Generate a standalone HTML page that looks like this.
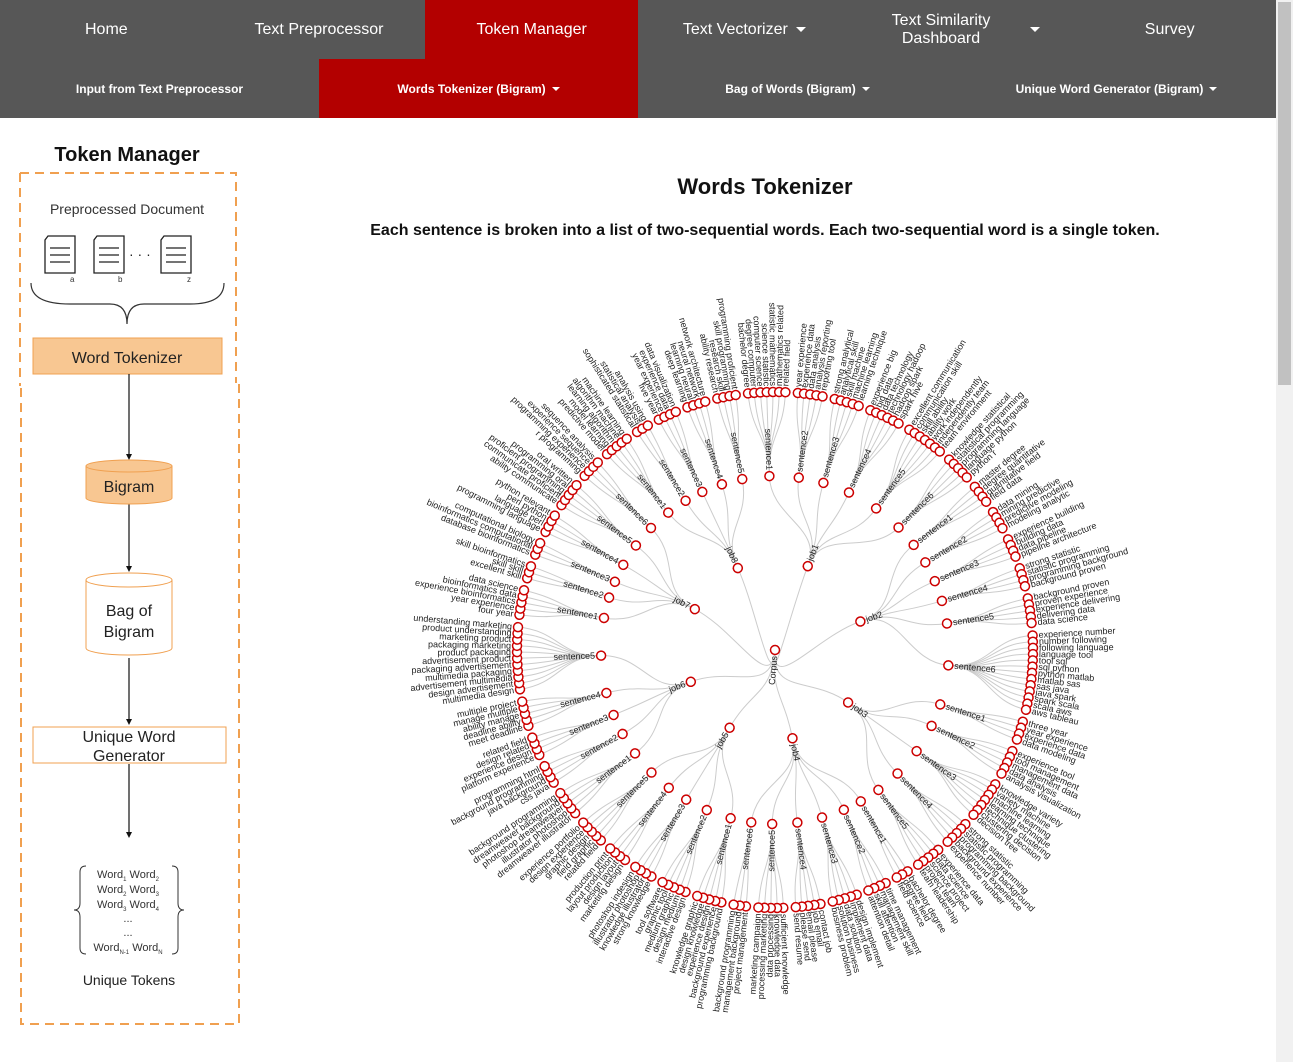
<!DOCTYPE html>
<html><head><meta charset="utf-8">
<style>
html,body{margin:0;padding:0;background:#fff;font-family:"Liberation Sans",Arial,sans-serif;}
body{width:1293px;height:1062px;overflow:hidden;position:relative;}
.nav1,.nav2{position:absolute;left:0;width:1276px;height:59px;background:#575757;display:flex;}
.nav1{top:0}.nav2{top:59px}
.nav1 div,.nav2 div{flex:1;color:#fff;display:flex;align-items:center;justify-content:center;text-align:center;}
.nav1 div{font-size:16px;}
.nav2 div{font-size:12px;font-weight:bold;}
.active{background:#b30000;}
.caret{display:inline-block;width:0;height:0;border-left:5px solid transparent;border-right:5px solid transparent;border-top:5px solid #fff;margin-left:8px;vertical-align:middle}
.nav2 .caret{border-left-width:4px;border-right-width:4px;border-top-width:4px;margin-left:6px}
.scroll{position:absolute;left:1276px;top:0;width:17px;height:1062px;background:#f1f1f1;}
.thumb{position:absolute;left:2px;top:2px;width:13px;height:383px;background:#c1c1c1;}
h1{position:absolute;left:0;width:1530px;top:174px;margin:0;font-size:22px;text-align:center;color:#111}
.sub{position:absolute;left:0;width:1530px;top:222px;font-size:16px;font-weight:bold;text-align:center;color:#111}
</style></head><body>
<div class="nav1">
<div>Home</div>
<div>Text Preprocessor</div>
<div class="active">Token Manager</div>
<div>Text Vectorizer<span class="caret"></span></div>
<div><span style="margin-left:18px">Text Similarity<br>Dashboard</span><span class="caret" style="margin-left:40px"></span></div>
<div>Survey</div>
</div>
<div class="nav2">
<div>Input from Text Preprocessor</div>
<div class="active">Words Tokenizer (Bigram)<span class="caret"></span></div>
<div>Bag of Words (Bigram)<span class="caret"></span></div>
<div>Unique Word Generator (Bigram)<span class="caret"></span></div>
</div>
<div class="scroll"><div class="thumb"></div></div>

<svg style="position:absolute;left:0;top:118px" width="260" height="944">
<text x="127" y="43" text-anchor="middle" font-size="20" font-weight="bold" fill="#111">Token Manager</text>
<path d="M20 55 H236 V265 M20 55 V268 M21 270 V906 H239 V265" fill="none" stroke="#f0a050" stroke-width="2" stroke-dasharray="9,6"/>
<text x="127" y="96" text-anchor="middle" font-size="14" fill="#333">Preprocessed Document</text>
<g fill="#fff" stroke="#222" stroke-width="1.3">
<path d="M48 118 H75 V155 H45 V122 Z"/><path d="M97 118 H124 V155 H94 V122 Z"/><path d="M164 118 H191 V155 H161 V122 Z"/>
<path d="M50 130H70M50 137H70M50 144H70M99 130H119M99 137H119M99 144H119M166 130H186M166 137H186M166 144H186"/>
</g>
<text x="129" y="141" font-size="14" fill="#222">· · ·</text>
<text x="70" y="164" font-size="8" fill="#333">a</text><text x="118" y="164" font-size="8" fill="#333">b</text><text x="187" y="164" font-size="8" fill="#333">z</text>
<path d="M31 165 Q31 186 70 186 H110 Q127 186 127 206 Q127 186 144 186 H190 Q224 186 224 165" fill="none" stroke="#333" stroke-width="1.2"/>
<rect x="33" y="220" width="189" height="36" fill="#f8c792" stroke="#f0a050"/>
<text x="127" y="245" text-anchor="middle" font-size="16" fill="#222">Word Tokenizer</text>
<g stroke="#111" stroke-width="1.2"><path d="M129 256 V340 M129 370 V452 M129 540 V605 M129 646 V718"/></g>
<g fill="#111"><path d="M126 336 L129 342 L132 336Z M126 448 L129 454 L132 448Z M126 601 L129 607 L132 601Z M126 714 L129 720 L132 714Z"/></g>
<path d="M86 348 V380 A43 6 0 0 0 172 380 V348" fill="#f8c792" stroke="#f0a050"/>
<ellipse cx="129" cy="348" rx="43" ry="6" fill="#f8c792" stroke="#f0a050"/>
<text x="129" y="374" text-anchor="middle" font-size="16" fill="#222">Bigram</text>
<path d="M86 462 V530 A43 7 0 0 0 172 530 V462" fill="#fff" stroke="#f0a050"/>
<ellipse cx="129" cy="462" rx="43" ry="7" fill="#fff" stroke="#f0a050"/>
<text x="129" y="498" text-anchor="middle" font-size="16" fill="#222">Bag of</text>
<text x="129" y="519" text-anchor="middle" font-size="16" fill="#222">Bigram</text>
<rect x="33" y="609" width="193" height="36" fill="#fff" stroke="#f0a050"/>
<text x="129" y="624" text-anchor="middle" font-size="16" fill="#222">Unique Word</text>
<text x="129" y="643" text-anchor="middle" font-size="16" fill="#222">Generator</text>
<path d="M86 748 Q80 748 80 754 V785 Q80 792 74 792 Q80 792 80 799 V830 Q80 836 86 836 M172 748 Q178 748 178 754 V785 Q178 792 184 792 Q178 792 178 799 V830 Q178 836 172 836" fill="none" stroke="#333"/>
<g font-size="11" fill="#333" text-anchor="middle">
<text x="128" y="760">Word<tspan font-size="6" dy="3">1</tspan><tspan dy="-3"> Word</tspan><tspan font-size="6" dy="3">2</tspan></text>
<text x="128" y="775">Word<tspan font-size="6" dy="3">2</tspan><tspan dy="-3"> Word</tspan><tspan font-size="6" dy="3">3</tspan></text>
<text x="128" y="790">Word<tspan font-size="6" dy="3">3</tspan><tspan dy="-3"> Word</tspan><tspan font-size="6" dy="3">4</tspan></text>
<text x="128" y="804">...</text><text x="128" y="818">...</text>
<text x="128" y="833">Word<tspan font-size="6" dy="3">N-1</tspan><tspan dy="-3"> Word</tspan><tspan font-size="6" dy="3">N</tspan></text>
</g>
<text x="129" y="867" text-anchor="middle" font-size="14" fill="#222">Unique Tokens</text>
</svg>

<h1>Words Tokenizer</h1>
<div class="sub">Each sentence is broken into a list of two-sequential words. Each two-sequential word is a single token.</div>

<svg id="tree" style="position:absolute;left:0;top:0" width="1276" height="1062"></svg>
<script>
const jobNames = ["job1","job2","job3","job4","job5","job6","job7","job8"];
const job1Sentences = ["bachelor degree computer science statistic mathematics related field","year experience data analysis reporting tool","strong analytical skill machine learning technique","experience big data technology hadoop spark hive","excellent communication skill ability work independently team environment","knowledge statistical programming language python r"];
const job2Sentences = ["master degree quantitative field data","data mining predictive modeling analytic","experience building data pipeline architecture","strong statistic programming background proven","background proven experience delivering data science","experience number following language tool sql python matlab sas java spark scala aws tableau"];
const job3Sentences = ["three year experience data modeling","experience tool management data analysis visualization","knowledge variety machine learning technique clustering decision tree","strong statistic programming background experience number","experience data science project team leadership"];
const job4Sentences = ["bachelor degree field science","time management skill attention detail","design implement data solution business problem","contact job email please send resume","sufficient knowledge data processing marketing campaign","project management background programming"];
const job5Sentences = ["programming background experience design knowledge graphic","interactive design medium graphic tool software","strong knowledge illustrator photoshop indesign","marketing design layout production print","related field graphic design experience portfolio"];
const job6Sentences = ["dreamweaver illustrator photoshop dreamweaver background programming","css java background programming html","platform experience design related field","meet deadline ability manage multiple project","multimedia design advertisement multimedia packaging advertisement product packaging marketing product understanding marketing"];
const job7Sentences = ["four year experience bioinformatics data science","excellent skill skill bioinformatics","database bioinformatics computational biology","programming language perl python relevant","ability communicate proficient programming oral written","r programming experience sequence analysis"];
const job8Sentences = ["predictive model learning algorithm machine learning","sophisticated statistical analysis using","five year experience data visualization","deep learning neural network architecture","ability research skill programming proficient"];
const sentenceGroups = [job1Sentences,job2Sentences,job3Sentences,job4Sentences,job5Sentences,job6Sentences,job7Sentences,job8Sentences];

const NS="http://www.w3.org/2000/svg";
const svg=document.getElementById('tree');
const cx=775, cy=650, levelR=[0,90,174,258], startDeg=-6;
const root={name:"Corpus",depth:0,children:[]};
jobNames.forEach((j,ji)=>{
  const job={name:j,depth:1,children:[]};
  sentenceGroups[ji].forEach((s,si)=>{
    const w=s.split(" "); const sn={name:"sentence"+(si+1),depth:2,children:[]};
    for(let k=0;k<w.length-1;k++) sn.children.push({name:w[k]+" "+w[k+1],depth:3,children:[]});
    job.children.push(sn);
  });
  root.children.push(job);
});
const leaves=[];let prev=null,units=0;
(function walk(n,p){n.parent=p;if(!n.children.length){if(prev)units+=(prev.parent===n.parent?1:2);n.u=units;leaves.push(n);prev=n;}else n.children.forEach(c=>walk(c,n));})(root,null);
const total=units+2;
function angleOf(u){return (startDeg+ (u/total)*360)*Math.PI/180;}
(function pos(n){if(!n.children.length)n.a=angleOf(n.u);else{n.children.forEach(pos);n.a=n.children.reduce((s,c)=>s+c.a,0)/n.children.length;}n.r=levelR[n.depth];})(root);
function pt(a,r){return [cx+r*Math.sin(a),cy-r*Math.cos(a)];}
const all=[];(function f(n){all.push(n);n.children.forEach(f);})(root);
const gl=document.createElementNS(NS,'g');svg.appendChild(gl);
const gn=document.createElementNS(NS,'g');svg.appendChild(gn);
all.forEach(n=>{
  if(n.parent){
    const p=n.parent,m=(p.r+n.r)/2;
    const s=pt(p.a,p.r),c1=pt(p.a,m),c2=pt(n.a,m),t=pt(n.a,n.r);
    const path=document.createElementNS(NS,'path');
    path.setAttribute('d',`M${s}C${c1} ${c2} ${t}`);
    path.setAttribute('fill','none');path.setAttribute('stroke','#ccc');path.setAttribute('stroke-width','1');
    
    
    gl.appendChild(path);
  }
  const [x,y]=pt(n.a,n.r);
  const g=document.createElementNS(NS,'g');
  
  
  const deg=n.a*180/Math.PI-90;
  g.setAttribute('transform',`translate(${x},${y}) rotate(${deg})`);
  const c=document.createElementNS(NS,'circle');
  c.setAttribute('r','4.5');c.setAttribute('fill','#fff');c.setAttribute('stroke','#c00');c.setAttribute('stroke-width','1.5');
  g.appendChild(c);
  const t=document.createElementNS(NS,'text');
  const flip=(((n.a%(2*Math.PI))+2*Math.PI)%(2*Math.PI))>Math.PI;
  t.setAttribute('font-size','9');t.setAttribute('fill','#222');t.setAttribute('dy','0.31em');
  if(flip){t.setAttribute('transform','rotate(180)');t.setAttribute('x','-6');t.setAttribute('text-anchor','end');}
  else{t.setAttribute('x','6');}
  t.textContent=n.name;
  g.appendChild(t);
  gn.appendChild(g);
});
</script>
</body></html>
